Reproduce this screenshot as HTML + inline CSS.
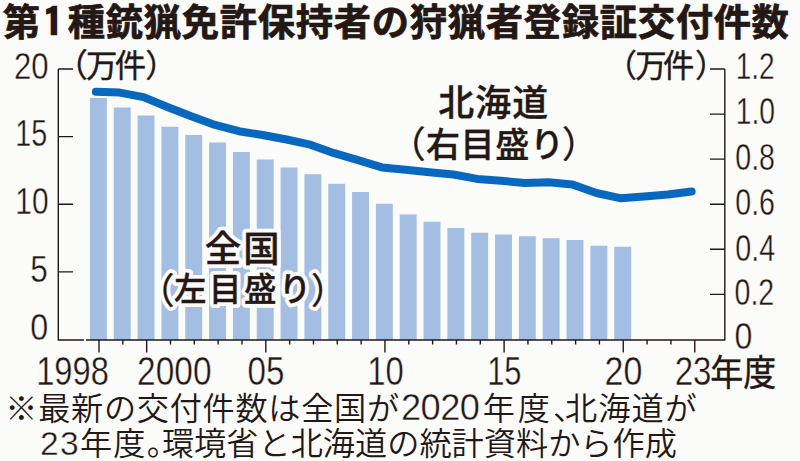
<!DOCTYPE html>
<html><head><meta charset="utf-8">
<style>
html,body{margin:0;padding:0;background:#fbfbfa;}
body{width:800px;height:461px;overflow:hidden;position:relative;}
svg{position:absolute;left:0;top:0;}
.num{font-family:"Liberation Sans",sans-serif;fill:#231815;stroke:#fbfbfa;stroke-width:0.4;}
.jpb{font-family:"Liberation Sans","Noto Sans CJK JP",sans-serif;fill:#231815;font-weight:700;}
.jpm{font-family:"Liberation Sans","Noto Sans CJK JP",sans-serif;fill:#231815;font-weight:500;}
.jpl{font-family:"Liberation Sans","Noto Sans CJK JP",sans-serif;fill:#231815;font-weight:300;}
.jpr{font-family:"Liberation Sans","Noto Sans CJK JP",sans-serif;fill:#231815;font-weight:400;}
.ipa{font-family:"IPAGothic",sans-serif;fill:#231815;}
.par{font-weight:400;}
.jpn{font-family:"Liberation Sans","Noto Sans CJK JP",sans-serif;fill:#231815;font-weight:350;}
.jpm{stroke:#231815;stroke-width:0.4;}
.jpr{stroke:#231815;stroke-width:0.4;}
.haloc{fill:#fbfbfa;stroke:#fbfbfa;stroke-width:8;stroke-linejoin:round;}
</style></head><body>
<svg width="800" height="461" viewBox="0 0 800 461">
<rect x="89.95" y="98" width="16.9" height="242.00" fill="#a4bde3"/>
<rect x="113.78" y="107.5" width="16.9" height="232.50" fill="#a4bde3"/>
<rect x="137.61" y="115.5" width="16.9" height="224.50" fill="#a4bde3"/>
<rect x="161.44" y="126.75" width="16.9" height="213.25" fill="#a4bde3"/>
<rect x="185.27" y="135" width="16.9" height="205.00" fill="#a4bde3"/>
<rect x="209.10" y="142.5" width="16.9" height="197.50" fill="#a4bde3"/>
<rect x="232.93" y="152" width="16.9" height="188.00" fill="#a4bde3"/>
<rect x="256.76" y="159.5" width="16.9" height="180.50" fill="#a4bde3"/>
<rect x="280.59" y="167.5" width="16.9" height="172.50" fill="#a4bde3"/>
<rect x="304.42" y="174.25" width="16.9" height="165.75" fill="#a4bde3"/>
<rect x="328.25" y="183.75" width="16.9" height="156.25" fill="#a4bde3"/>
<rect x="352.08" y="192" width="16.9" height="148.00" fill="#a4bde3"/>
<rect x="375.91" y="203.75" width="16.9" height="136.25" fill="#a4bde3"/>
<rect x="399.74" y="214.5" width="16.9" height="125.50" fill="#a4bde3"/>
<rect x="423.57" y="221.75" width="16.9" height="118.25" fill="#a4bde3"/>
<rect x="447.40" y="228" width="16.9" height="112.00" fill="#a4bde3"/>
<rect x="471.23" y="232.75" width="16.9" height="107.25" fill="#a4bde3"/>
<rect x="495.06" y="234.5" width="16.9" height="105.50" fill="#a4bde3"/>
<rect x="518.89" y="236.25" width="16.9" height="103.75" fill="#a4bde3"/>
<rect x="542.72" y="238.25" width="16.9" height="101.75" fill="#a4bde3"/>
<rect x="566.55" y="240" width="16.9" height="100.00" fill="#a4bde3"/>
<rect x="590.38" y="245.75" width="16.9" height="94.25" fill="#a4bde3"/>
<rect x="614.21" y="246.75" width="16.9" height="93.25" fill="#a4bde3"/>
<path d="M58.3 69 V340.0 H84 M86 340.0 H724.8 V69" fill="none" stroke="#231815" stroke-width="1.4"/>
<path d="M58.3 69.00 H73 M58.3 136.60 H73 M58.3 204.30 H73 M58.3 271.90 H73 M710 69.00 H724.8 M710 114.08 H724.8 M710 159.16 H724.8 M710 204.24 H724.8 M710 249.32 H724.8 M710 294.40 H724.8 " stroke="#231815" stroke-width="1.4"/>
<path d="M99.00 340.0 V352.5 M122.83 340.0 V344.5 M146.66 340.0 V352.5 M170.49 340.0 V344.5 M194.32 340.0 V344.5 M218.15 340.0 V344.5 M241.98 340.0 V344.5 M265.81 340.0 V352.5 M289.64 340.0 V344.5 M313.47 340.0 V344.5 M337.30 340.0 V344.5 M361.13 340.0 V344.5 M384.96 340.0 V352.5 M408.79 340.0 V344.5 M432.62 340.0 V344.5 M456.45 340.0 V344.5 M480.28 340.0 V344.5 M504.11 340.0 V352.5 M527.94 340.0 V344.5 M551.77 340.0 V344.5 M575.60 340.0 V344.5 M599.43 340.0 V344.5 M623.26 340.0 V352.5 M647.09 340.0 V344.5 M670.92 340.0 V344.5 M694.75 340.0 V352.5 " stroke="#231815" stroke-width="1.4"/>
<path d="M95.90 91.80 L119.73 92.60 L143.56 97.10 L167.39 107.00 L191.22 116.30 L215.05 124.90 L238.88 131.20 L262.71 135.00 L286.54 139.50 L310.37 144.70 L334.20 153.20 L358.03 160.20 L381.86 167.40 L405.69 169.70 L429.52 172.20 L453.35 174.50 L477.18 178.90 L501.01 180.80 L524.84 182.90 L548.67 182.30 L572.50 184.50 L596.33 193.00 L620.16 198.20 L643.99 196.50 L667.82 194.50 L691.65 191.50" fill="none" stroke="#0868bf" stroke-width="8" stroke-linecap="round" stroke-linejoin="round"/>
<text class="jpm haloc" x="204.82" y="261.82" font-size="36.33" textLength="74.88" lengthAdjust="spacing" >全国</text>
<text class="jpr haloc" x="138.80" y="303.30" font-size="35.73" >（</text>
<text class="jpm haloc" x="174.00" y="301.10" font-size="32.48" textLength="137.30" lengthAdjust="spacing" >左目盛り</text>
<text class="jpr haloc" x="311.00" y="303.30" font-size="35.73" >）</text>
<text class="jpb" x="2.72" y="35.55" font-size="37.30" stroke="#231815" stroke-width="0.7">第</text>
<text class="ipa" x="42.30" y="36.00" font-size="38.24" textLength="22.00" lengthAdjust="spacingAndGlyphs" font-weight="700" stroke="#231815" stroke-width="1.2">1</text>
<text class="jpb" x="67.80" y="35.55" font-size="37.30" textLength="721.12" lengthAdjust="spacing" stroke="#231815" stroke-width="0.7">種銃猟免許保持者の狩猟者登録証交付件数</text>
<text class="num" x="13.93" y="78.54" font-size="37.80" textLength="34.61" lengthAdjust="spacingAndGlyphs" >20</text>
<text class="num" x="15.29" y="145.91" font-size="37.80" textLength="31.98" lengthAdjust="spacingAndGlyphs" >15</text>
<text class="num" x="15.29" y="213.91" font-size="37.80" textLength="33.24" lengthAdjust="spacingAndGlyphs" >10</text>
<text class="num" x="30.37" y="281.59" font-size="37.80" textLength="17.53" lengthAdjust="spacingAndGlyphs" >5</text>
<text class="num" x="30.37" y="340.27" font-size="37.80" textLength="17.98" lengthAdjust="spacingAndGlyphs" >0</text>
<text class="num" x="735.74" y="79.16" font-size="37.80" textLength="38.89" lengthAdjust="spacingAndGlyphs" >1.2</text>
<text class="num" x="735.74" y="124.05" font-size="37.80" textLength="39.34" lengthAdjust="spacingAndGlyphs" >1.0</text>
<text class="num" x="735.27" y="169.79" font-size="37.80" textLength="39.71" lengthAdjust="spacingAndGlyphs" >0.8</text>
<text class="num" x="735.27" y="215.16" font-size="37.80" textLength="39.71" lengthAdjust="spacingAndGlyphs" >0.6</text>
<text class="num" x="735.27" y="260.58" font-size="37.80" textLength="39.89" lengthAdjust="spacingAndGlyphs" >0.4</text>
<text class="num" x="734.55" y="305.21" font-size="37.80" textLength="39.71" lengthAdjust="spacingAndGlyphs" >0.2</text>
<text class="num" x="734.55" y="349.42" font-size="37.80" textLength="17.89" lengthAdjust="spacingAndGlyphs" >0</text>
<text class="num" x="36.20" y="385.00" font-size="41.50" textLength="72.70" lengthAdjust="spacingAndGlyphs" >1998</text>
<text class="num" x="137.10" y="384.73" font-size="41.50" textLength="74.43" lengthAdjust="spacingAndGlyphs" >2000</text>
<text class="num" x="247.51" y="385.27" font-size="41.50" textLength="36.89" lengthAdjust="spacingAndGlyphs" >05</text>
<text class="num" x="367.20" y="385.27" font-size="41.50" textLength="36.53" lengthAdjust="spacingAndGlyphs" >10</text>
<text class="num" x="487.20" y="385.27" font-size="41.50" textLength="34.37" lengthAdjust="spacingAndGlyphs" >15</text>
<text class="num" x="604.56" y="385.27" font-size="41.50" textLength="37.79" lengthAdjust="spacingAndGlyphs" >20</text>
<text class="num" x="674.64" y="384.55" font-size="41.50" textLength="36.80" lengthAdjust="spacingAndGlyphs" >23</text>
<text class="jpr" x="710.27" y="385.64" font-size="36.53" textLength="65.91" lengthAdjust="spacingAndGlyphs" >年度</text>
<text class="jpm" x="438.36" y="116.10" font-size="35.89" textLength="109.82" lengthAdjust="spacing" >北海道</text>
<text class="jpm" x="204.82" y="261.82" font-size="36.33" textLength="74.88" lengthAdjust="spacing" >全国</text>
<text class="jpn" x="5.30" y="420.00" font-size="32.20" textLength="393.80" lengthAdjust="spacing" >※最新の交付件数は全国が</text>
<text class="num" x="401.10" y="420.00" font-size="36.23" textLength="78.70" lengthAdjust="spacing" >2020</text>
<text class="jpn" x="482.72" y="420.00" font-size="32.20" textLength="102.48" lengthAdjust="spacing" >年度、</text>
<text class="jpn" x="565.00" y="420.00" font-size="32.20" textLength="131.80" lengthAdjust="spacing" >北海道が</text>
<text class="num" x="39.92" y="454.52" font-size="33.62" textLength="38.88" lengthAdjust="spacing" >23</text>
<text class="jpn" x="79.90" y="454.70" font-size="32.20" textLength="99.00" lengthAdjust="spacing" >年度。</text>
<text class="jpn" x="161.90" y="454.70" font-size="32.20" textLength="515.00" lengthAdjust="spacing" >環境省と北海道の統計資料から作成</text>
<text class="jpr" x="55.18" y="76.94" font-size="32.65" >（</text>
<text class="jpr" x="86.00" y="77.09" font-size="31.37" textLength="60.09" lengthAdjust="spacing" >万件</text>
<text class="jpr" x="145.18" y="76.94" font-size="31.81" >）</text>
<text class="jpr" x="605.16" y="76.94" font-size="31.81" >（</text>
<text class="jpr" x="635.36" y="77.09" font-size="31.37" textLength="58.92" lengthAdjust="spacing" >万件</text>
<text class="jpr" x="694.90" y="76.94" font-size="31.81" >）</text>
<text class="jpr" x="388.90" y="158.40" font-size="36.58" >（</text>
<text class="jpm" x="425.90" y="157.10" font-size="34.08" textLength="138.20" lengthAdjust="spacing" >右目盛り</text>
<text class="jpr" x="562.00" y="158.40" font-size="36.55" >）</text>
<text class="jpr" x="138.80" y="303.30" font-size="35.73" >（</text>
<text class="jpm" x="174.00" y="301.10" font-size="32.48" textLength="137.30" lengthAdjust="spacing" >左目盛り</text>
<text class="jpr" x="311.00" y="303.30" font-size="35.73" >）</text>
</svg>
</body></html>
